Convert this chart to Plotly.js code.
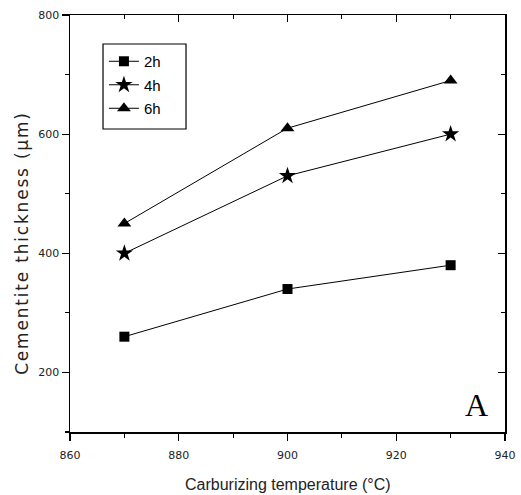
<!DOCTYPE html>
<html><head><meta charset="utf-8">
<script src="https://cdn.plot.ly/plotly-3.0.1.min.js"></script>
<style>html,body{margin:0;padding:0;background:#fff}#c{width:521px;height:495px}</style>
</head><body><div id="c"></div>
<script>
const temps = [870, 900, 930];
const h2 = [260, 340, 380];
const h4 = [400, 530, 600];
const h6 = [450, 610, 690];
const seriesNames = ['2h', '4h', '6h'];
const xTicks = [860, 880, 900, 920, 940];
const yTicks = [200, 400, 600, 800];

const F = 'DejaVu Sans, Arial, sans-serif';
const A = 'Liberation Sans, Arial, sans-serif';
function tr(y, name, sym, size) {
  return {x: temps, y: y, name: name, legendgroup: name, type: 'scatter', mode: 'lines+markers',
    line: {color: '#000', width: 1}, marker: {symbol: sym, size: size, color: '#000'}};
}
const data = [
  tr(h2, seriesNames[0], 'square', 10),
  tr(h4, seriesNames[1], 'star', 13),
  tr(h6, seriesNames[2], 'triangle-up', 12),
  {x: [], y: [], xaxis: 'x2', yaxis: 'y2', showlegend: false, type: 'scatter', mode: 'markers'}
];
const axBase = {showgrid: false, zeroline: false, linecolor: '#000', linewidth: 1.5, tickcolor: '#000', tickwidth: 1.2};
const layout = {
  width: 521, height: 495,
  margin: {l: 70, r: 16, t: 15, b: 63},
  paper_bgcolor: '#fff', plot_bgcolor: '#fff',
  font: {family: F, color: '#000'},
  xaxis: Object.assign({}, axBase, {range: [860, 940], tickvals: xTicks, ticks: 'outside', ticklen: 7,
    showline: true, mirror: true, tickfont: {size: 11, family: F, color: '#222'}, ticklabelstandoff: 5,
    minor: {ticks: 'outside', ticklen: 4, dtick: 10, tick0: 860, tickcolor: '#000'}}),
  yaxis: Object.assign({}, axBase, {range: [100, 800], tickvals: yTicks, ticks: 'outside', ticklen: 7,
    showline: true, mirror: true, tickfont: {size: 11, family: F, color: '#222'},
    minor: {ticks: 'outside', ticklen: 4, dtick: 100, tick0: 100, tickcolor: '#000'}}),
  xaxis2: Object.assign({}, axBase, {range: [860, 940], overlaying: 'x', side: 'top', anchor: 'y2',
    tickvals: xTicks, ticks: 'inside', ticklen: 7, showticklabels: false, showline: false,
    minor: {ticks: 'inside', ticklen: 4, dtick: 10, tick0: 860, tickcolor: '#000'}}),
  yaxis2: Object.assign({}, axBase, {range: [100, 800], overlaying: 'y', side: 'right', anchor: 'x2',
    tickvals: yTicks, ticks: 'inside', ticklen: 7, showticklabels: false, showline: false,
    minor: {ticks: 'inside', ticklen: 4, dtick: 100, tick0: 100, tickcolor: '#000'}}),
  showlegend: true,
  legend: {x: 0.078, y: 0.928, xanchor: 'left', yanchor: 'top', borderwidth: 0,
    bgcolor: 'rgba(0,0,0,0)', font: {size: 15, family: A},
    traceorder: 'grouped', tracegroupgap: 1, itemwidth: 30},
  shapes: [
    {type: 'rect', xref: 'paper', yref: 'paper', x0: 0.0759, x1: 0.2667, y0: 0.7266, y1: 0.9305,
     line: {color: '#000', width: 1.2}, fillcolor: 'rgba(0,0,0,0)', layer: 'above'}
  ],
  annotations: [
    {text: 'Carburizing temperature (°C)', xref: 'paper', yref: 'paper', x: 0.5, y: 0, yshift: -52,
     xanchor: 'center', yanchor: 'middle', showarrow: false, font: {size: 16, family: A, color: '#222'}},
    {text: 'Cementite thickness (μm)', xref: 'paper', yref: 'paper', x: -0.110, y: 0.453, textangle: -90,
     xanchor: 'center', yanchor: 'middle', showarrow: false, font: {size: 17, family: F, color: '#222'}},
    {text: 'A', xref: 'paper', yref: 'paper', x: 0.935, y: 0.065, xanchor: 'center', yanchor: 'middle',
     showarrow: false, font: {size: 32, family: 'Liberation Serif, Times New Roman, serif', color: '#000'}}
  ]
};
Plotly.newPlot('c', data, layout, {displayModeBar: false, staticPlot: true}).then(function () {
  const t = document.querySelectorAll('#c .annotation-text');
  if (t[1]) t[1].style.letterSpacing = '1.8px';
});
</script></body></html>
